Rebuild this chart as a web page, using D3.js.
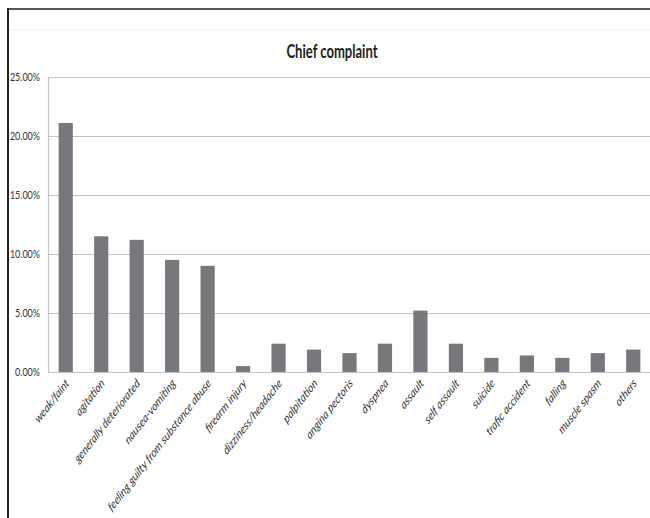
<!DOCTYPE html>
<html>
<head>
<meta charset="utf-8">
<script src="https://cdn.jsdelivr.net/npm/d3@7"></script>
<style>
  html, body { margin: 0; padding: 0; background: #fff; }
  svg { display: block; }
</style>
</head>
<body>
<div id="chart"></div>
<script>
const categories = ["weak/faint", "agitation", "generally deteriorated", "nausea-vomiting",
  "feeling guilty from substance abuse", "firearm injury", "dizziness/headache", "palpitation",
  "angina pectoris", "dyspnea", "assault", "self assault", "suicide", "trafic accident",
  "falling", "muscle spasm", "others"];
const values = [0.211, 0.115, 0.112, 0.095, 0.090, 0.005, 0.024, 0.019, 0.016, 0.024,
  0.052, 0.024, 0.012, 0.014, 0.012, 0.016, 0.019];
const yTicks = [0, 0.05, 0.10, 0.15, 0.20, 0.25];
const title = "Chief complaint";

const W = 650, H = 518;
const svg = d3.select("#chart").append("svg").attr("width", W).attr("height", H);

// frame
svg.append("line").attr("x1", 8).attr("x2", W).attr("y1", 9).attr("y2", 9)
  .attr("stroke", "#555").attr("stroke-width", 2);
svg.append("line").attr("x1", 8).attr("x2", 8).attr("y1", 8).attr("y2", H)
  .attr("stroke", "#222").attr("stroke-width", 2);
svg.append("line").attr("x1", 9).attr("x2", W).attr("y1", 29.5).attr("y2", 29.5)
  .attr("stroke", "#f3f3f3").attr("stroke-width", 1);

const x = d3.scaleBand().domain(categories).range([48, 651]).paddingInner(0.6).paddingOuter(0.3);
const y = d3.scaleLinear().domain([0, 0.25]).range([372, 77]);

// gridlines
svg.append("g").selectAll("line").data(yTicks).join("line")
  .attr("x1", 48).attr("x2", W)
  .attr("y1", d => Math.round(y(d)) + 0.5).attr("y2", d => Math.round(y(d)) + 0.5)
  .attr("stroke", "#c4c4c4").attr("stroke-width", 1.2);
svg.append("line").attr("x1", 48.5).attr("x2", 48.5).attr("y1", y(0.25)).attr("y2", y(0))
  .attr("stroke", "#c4c4c4").attr("stroke-width", 1.2);

// y tick labels
svg.append("g").selectAll("text").data(yTicks).join("text")
  .attr("transform", d => `translate(40,${y(d) + 4}) scale(0.78,1)`)
  .attr("text-anchor", "end")
  .attr("font-family", "Lato, 'Open Sans', sans-serif")
  .attr("font-size", 11.5)
  .attr("fill", "#333")
  .text(d => d3.format(".2%")(d));

// bars
svg.append("g").selectAll("rect").data(values).join("rect")
  .attr("x", (d, i) => x(categories[i]))
  .attr("width", x.bandwidth())
  .attr("y", d => y(d))
  .attr("height", d => y(0) - y(d))
  .attr("fill", "#77787c");

// x labels
svg.append("g").selectAll("text").data(categories).join("text")
  .attr("transform", d => `translate(${x(d) + x.bandwidth() / 2 + 4},${384}) scale(0.78,1) rotate(-45)`)
  .attr("text-anchor", "end")
  .attr("font-family", "Lato, 'Open Sans', sans-serif")
  .attr("font-style", "italic")
  .attr("font-size", 12.5)
  .attr("fill", "#333")
  .text(d => d);

// title
svg.append("text")
  .attr("x", 332).attr("y", 58)
  .attr("text-anchor", "middle")
  .attr("font-family", "Lato, 'Open Sans', sans-serif")
  .attr("font-weight", "bold")
  .attr("font-size", 18)
  .attr("textLength", 91).attr("lengthAdjust", "spacingAndGlyphs")
  .attr("fill", "#222")
  .text(title);
</script>
</body>
</html>
